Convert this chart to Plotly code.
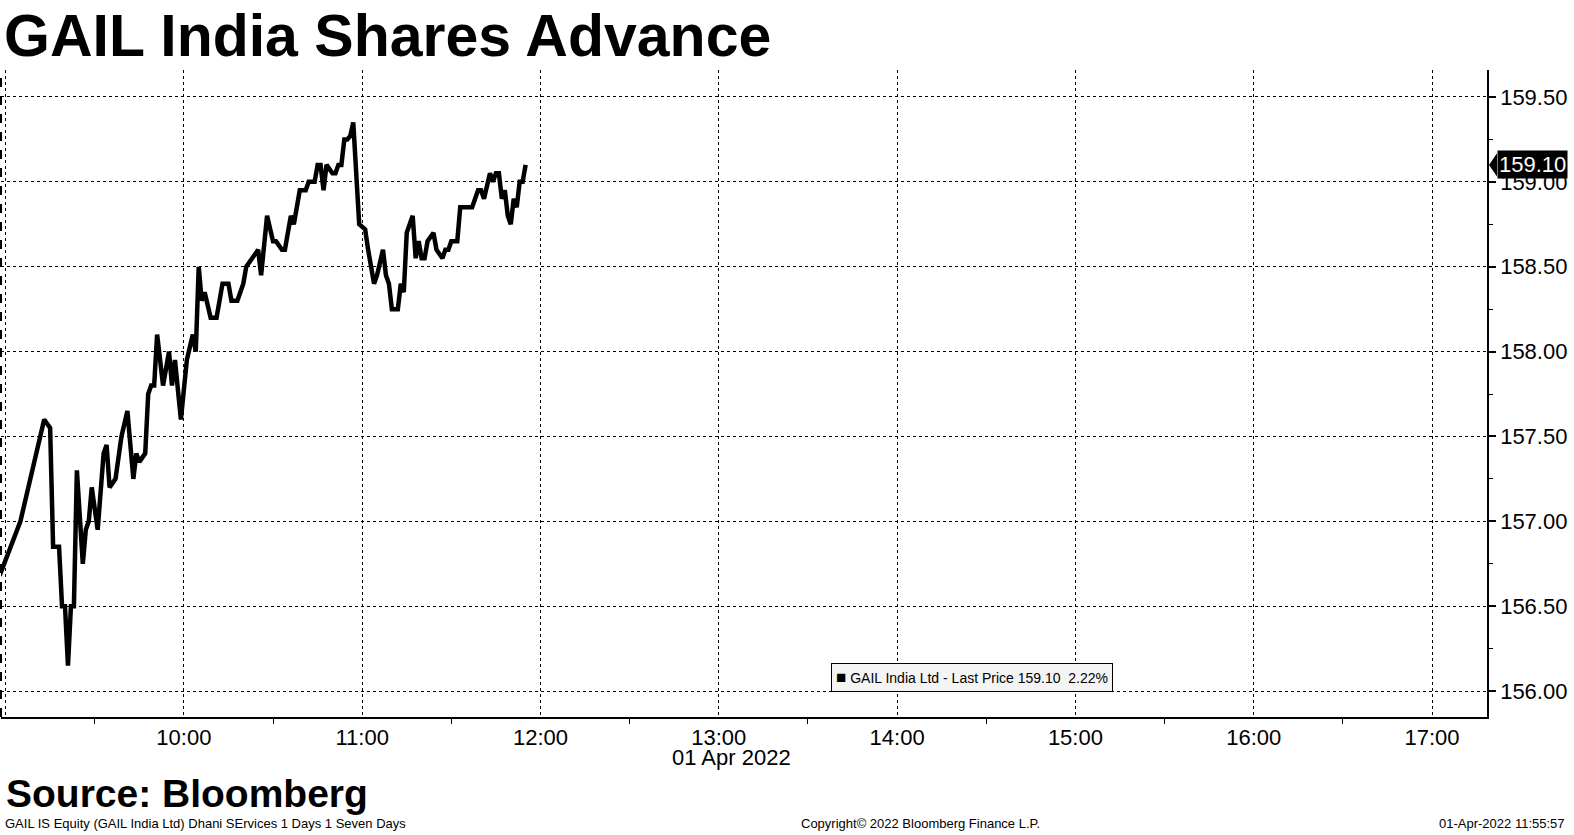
import plotly.graph_objects as go

DATE = "2022-04-01"

times = ["08:58", "09:05", "09:13", "09:15", "09:16", "09:18", "09:19", "09:20", "09:21", "09:22",
         "09:23", "09:24", "09:26", "09:27", "09:28", "09:29", "09:31", "09:33", "09:34", "09:35",
         "09:37", "09:38", "09:39", "09:41", "09:43", "09:44", "09:45", "09:47", "09:48", "09:49",
         "09:50", "09:51", "09:53", "09:55", "09:56", "09:57", "09:59", "10:01", "10:03", "10:04",
         "10:05", "10:06", "10:07", "10:09", "10:11", "10:13", "10:15", "10:16", "10:18", "10:20",
         "10:21", "10:23", "10:25", "10:26", "10:28", "10:30", "10:31", "10:33", "10:34", "10:36",
         "10:37", "10:39", "10:41", "10:42", "10:44", "10:45", "10:46", "10:47", "10:48", "10:50",
         "10:51", "10:52", "10:53", "10:54", "10:55", "10:56", "10:57", "10:59", "11:01", "11:02",
         "11:04", "11:05", "11:07", "11:08", "11:09", "11:10", "11:12", "11:13", "11:14", "11:15",
         "11:17", "11:18", "11:19", "11:20", "11:21", "11:22", "11:24", "11:25", "11:27", "11:28",
         "11:29", "11:30", "11:32", "11:33", "11:37", "11:39", "11:40", "11:41", "11:43", "11:44",
         "11:45", "11:46", "11:47", "11:48", "11:49", "11:50", "11:51", "11:52", "11:53", "11:54",
         "11:55"]

prices = [156.68, 157.00, 157.60, 157.55, 156.85, 156.85, 156.50, 156.50, 156.15, 156.50,
          156.50, 157.30, 156.75, 156.95, 157.00, 157.20, 156.95, 157.40, 157.45, 157.20,
          157.25, 157.40, 157.50, 157.65, 157.25, 157.40, 157.35, 157.40, 157.75, 157.80,
          157.80, 158.10, 157.80, 158.00, 157.80, 157.95, 157.60, 157.95, 158.10, 158.00,
          158.50, 158.30, 158.35, 158.20, 158.20, 158.40, 158.40, 158.30, 158.30, 158.40,
          158.50, 158.55, 158.60, 158.45, 158.80, 158.65, 158.65, 158.60, 158.60, 158.80,
          158.75, 158.95, 158.95, 159.00, 159.00, 159.10, 159.10, 158.95, 159.10, 159.05,
          159.05, 159.10, 159.10, 159.25, 159.25, 159.27, 159.35, 158.75, 158.72, 158.60,
          158.40, 158.45, 158.60, 158.45, 158.40, 158.25, 158.25, 158.40, 158.35, 158.70,
          158.80, 158.55, 158.65, 158.55, 158.55, 158.65, 158.70, 158.60, 158.55, 158.60,
          158.60, 158.65, 158.65, 158.85, 158.85, 158.95, 158.95, 158.90, 159.05, 159.00,
          159.05, 159.05, 158.90, 158.95, 158.80, 158.75, 158.90, 158.85, 159.00, 159.00,
          159.10]

y_ticks = [156.0, 156.5, 157.0, 157.5, 158.0, 158.5, 159.0, 159.5]
y_tick_labels = ["156.00", "156.50", "157.00", "157.50", "158.00", "158.50", "159.00", "159.50"]

last_price = 159.10
last_label = "159.10"
legend_text = "GAIL India Ltd - Last Price 159.10  2.22%"

title_text = "GAIL India Shares Advance"
source_text = "Source: Bloomberg"
footer_left = "GAIL IS Equity (GAIL India Ltd) Dhani SErvices 1 Days 1 Seven Days"
footer_mid = "Copyright\u00a9 2022 Bloomberg Finance L.P."
footer_right = "01-Apr-2022 11:55:57"
date_label = "01 Apr 2022"

x_vals = [f"{DATE} {t}:00" for t in times]

FONT = "Liberation Sans"

W, H = 1574, 835
ml, mr, mt, mb = 1, 87, 70, 118
PW, PH = W - ml - mr, H - mt - mb


def px(sx):
    """page x -> paper x"""
    return (sx - ml) / PW


def py(sy):
    """page y -> paper y"""
    return (H - mb - sy) / PH


fig = go.Figure()
fig.add_trace(go.Scatter(
    x=x_vals, y=prices, mode="lines",
    line=dict(color="black", width=4.5),
    showlegend=False, hoverinfo="skip",
))

fig.update_layout(
    width=W, height=H,
    margin=dict(l=ml, r=mr, t=mt, b=mb, autoexpand=False),
    paper_bgcolor="white", plot_bgcolor="white",
    font=dict(family=FONT, color="black"),
    xaxis=dict(
        type="date",
        range=[f"{DATE} 08:58:28", f"{DATE} 17:18:30"],
        tick0=f"{DATE} 10:00:00", dtick=3600000,
        tickformat="%H:%M",
        showgrid=True, gridcolor="black", griddash="dot", gridwidth=1,
        showline=True, linecolor="black", linewidth=1.5,
        ticks="", ticklen=0,
        tickfont=dict(size=22, family=FONT),
        minor=dict(dtick=1800000, tick0=f"{DATE} 09:30:00", ticks="outside",
                   ticklen=5, tickcolor="black", tickwidth=1, showgrid=False),
        zeroline=False,
        fixedrange=True,
    ),
    yaxis=dict(
        side="right",
        range=[155.847, 159.659],
        tickvals=y_ticks, ticktext=y_tick_labels,
        showgrid=True, gridcolor="black", griddash="dot", gridwidth=1,
        showline=True, linecolor="black", linewidth=1.5,
        ticks="outside", ticklen=7, tickcolor="black", tickwidth=1.5,
        tickfont=dict(size=22, family=FONT),
        minor=dict(dtick=0.25, tick0=155.75, ticks="outside", ticklen=4,
                   tickcolor="black", tickwidth=1, showgrid=False),
        zeroline=False,
        fixedrange=True,
    ),
)

# left dashed border
fig.add_shape(type="line", xref="paper", yref="paper", x0=0, x1=0, y0=0, y1=1,
              line=dict(color="black", width=2, dash="dash"))

# last price tag pointer
fig.add_shape(type="path", xref="paper", yref="y",
              path=f"M {px(1489)} {last_price} L {px(1497)} {last_price + 0.068} "
                   f"L {px(1497)} {last_price - 0.068} Z",
              fillcolor="black", line=dict(color="black", width=0))

annotations = [
    dict(text=f"<b>{title_text}</b>", x=px(2), y=py(36), xref="paper", yref="paper",
         xanchor="left", yanchor="middle", showarrow=False,
         font=dict(size=59, family=FONT, color="black")),
    dict(text=f"<b>{source_text}</b>", x=px(4), y=py(793), xref="paper", yref="paper",
         xanchor="left", yanchor="middle", showarrow=False,
         font=dict(size=39, family=FONT, color="black")),
    dict(text=footer_left, x=px(3), y=py(823), xref="paper", yref="paper",
         xanchor="left", yanchor="middle", showarrow=False,
         font=dict(size=13, family=FONT, color="black")),
    dict(text=footer_mid, x=px(920), y=py(823), xref="paper", yref="paper",
         xanchor="center", yanchor="middle", showarrow=False,
         font=dict(size=13, family=FONT, color="black")),
    dict(text=footer_right, x=px(1567), y=py(823), xref="paper", yref="paper",
         xanchor="right", yanchor="middle", showarrow=False,
         font=dict(size=13, family=FONT, color="black")),
    dict(text=date_label, x=px(731), y=py(757), xref="paper", yref="paper",
         xanchor="center", yanchor="middle", showarrow=False,
         font=dict(size=22, family=FONT, color="black")),
    dict(text=f"<span style='font-size:17px'>\u25a0</span> {legend_text}",
         x=px(972), y=py(677), xref="paper", yref="paper",
         xanchor="center", yanchor="middle", showarrow=False,
         bgcolor="#f4f4f4", bordercolor="black", borderwidth=1, borderpad=4,
         font=dict(size=14, family=FONT, color="black")),
    dict(text=last_label, x=px(1497), y=last_price, xref="paper", yref="y",
         xanchor="left", yanchor="middle", showarrow=False,
         bgcolor="black", borderpad=1,
         font=dict(size=22, family=FONT, color="white")),
]
fig.update_layout(annotations=annotations)

fig.write_html(
    "out.html",
    config={"displayModeBar": False},
    post_script="document.body.style.margin='0';document.body.style.overflow='hidden';"
                "document.documentElement.style.overflow='hidden';",
)
